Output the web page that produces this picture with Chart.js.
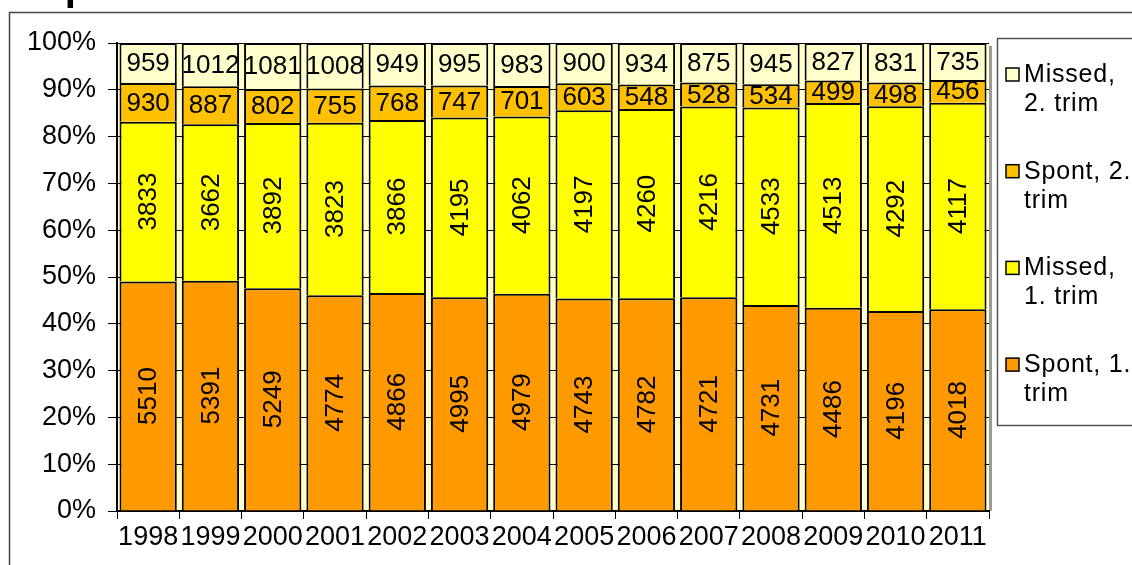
<!DOCTYPE html>
<html>
<head>
<meta charset="utf-8">
<script src="https://cdn.jsdelivr.net/npm/chart.js@4.4.0/dist/chart.umd.min.js"></script>
<style>
    html, body { margin: 0; padding: 0; background: #fff; }
    #wrap { position: relative; width: 1132px; height: 565px; }
</style>
</head>
<body>
<div id="wrap"><canvas id="chart" width="1132" height="565"></canvas></div>
<script>
// --- data -------------------------------------------------------------
const years = ['1998', '1999', '2000', '2001', '2002', '2003', '2004',
               '2005', '2006', '2007', '2008', '2009', '2010', '2011'];

const spont1  = [5510, 5391, 5249, 4774, 4866, 4995, 4979, 4743, 4782, 4721, 4731, 4486, 4196, 4018];
const missed1 = [3833, 3662, 3892, 3823, 3866, 4195, 4062, 4197, 4260, 4216, 4533, 4513, 4292, 4117];
const spont2  = [930, 887, 802, 755, 768, 747, 701, 603, 548, 528, 534, 499, 498, 456];
const missed2 = [959, 1012, 1081, 1008, 949, 995, 983, 900, 934, 875, 945, 827, 831, 735];

const seriesLabels = [['Spont, 1.', 'trim'], ['Missed,', '1. trim'], ['Spont, 2.', 'trim'], ['Missed,', '2. trim']];
const seriesColors = ['#FF9900', '#FFFF00', '#FFC000', '#FFFFCC'];
const rotatedLabels = [true, true, false, false];

const yTickStep = 10;
const titleText = 'Spontaneous and missed abortions';

const FONT = '"Liberation Sans", Arial, sans-serif';

// counts -> share of the yearly total, so the stack fills 100%
const allSeries = [spont1, missed1, spont2, missed2];
const totals = years.map((_, i) => allSeries.reduce((s, arr) => s + arr[i], 0));
const toPct = arr => arr.map((v, i) => v / totals[i] * 100);

// --- plugins ----------------------------------------------------------
const plotBackground = {
    id: 'plotBackground',
    beforeDraw(chart) {
        const { ctx, chartArea: a } = chart;
        ctx.save();
        // outer frame (left and top edges)
        ctx.strokeStyle = '#444';
        ctx.lineWidth = 1.5;
        ctx.beginPath();
        ctx.moveTo(9.5, 565);
        ctx.lineTo(9.5, 12.5);
        ctx.lineTo(1132, 12.5);
        ctx.stroke();
        // title, sitting above the visible frame
        ctx.fillStyle = '#000';
        ctx.font = 'bold 40px ' + FONT;
        ctx.textBaseline = 'alphabetic';
        ctx.fillText(titleText, 38, 0);
        // plot area fill + right shadow
        ctx.fillStyle = '#FFFFCC';
        ctx.fillRect(a.left, a.top, a.right - a.left, a.bottom - a.top);
        ctx.fillStyle = '#9a9a9a';
        ctx.fillRect(a.right, a.top + 3, 3, a.bottom - a.top - 3);
        ctx.restore();
    }
};

const valueLabels = {
    id: 'valueLabels',
    afterDatasetsDraw(chart) {
        const { ctx } = chart;
        ctx.save();
        ctx.fillStyle = '#000';
        ctx.font = '26px ' + FONT;
        ctx.textAlign = 'center';
        ctx.textBaseline = 'middle';
        chart.data.datasets.forEach((ds, di) => {
            const meta = chart.getDatasetMeta(di);
            meta.data.forEach((bar, i) => {
                const cy = (bar.y + bar.base) / 2;
                const txt = String(ds.counts[i]);
                if (rotatedLabels[di]) {
                    ctx.save();
                    ctx.translate(bar.x, cy);
                    ctx.rotate(-Math.PI / 2);
                    ctx.fillText(txt, 0, 1);
                    ctx.restore();
                } else {
                    ctx.fillText(txt, bar.x, cy + 1);
                }
            });
        });
        ctx.restore();
    }
};

const boxLegend = {
    id: 'boxLegend',
    afterDraw(chart) {
        const { ctx } = chart;
        const x0 = 997.5, y0 = 38.5;
        ctx.save();
        ctx.fillStyle = '#fff';
        ctx.fillRect(x0, y0, 200, 387);
        ctx.strokeStyle = '#555';
        ctx.lineWidth = 1.5;
        ctx.strokeRect(x0, y0, 200, 387);

        ctx.font = '25px ' + FONT;
        ctx.letterSpacing = '0.8px';
        ctx.textAlign = 'left';
        ctx.textBaseline = 'middle';
        const order = [3, 2, 1, 0];
        order.forEach((di, k) => {
            const ds = chart.data.datasets[di];
            const cy = 75 + k * 96.7;
            ctx.fillStyle = ds.backgroundColor;
            ctx.fillRect(1006, cy - 7, 13, 13);
            ctx.strokeStyle = '#000';
            ctx.lineWidth = 1.5;
            ctx.strokeRect(1006, cy - 7, 13, 13);
            ctx.fillStyle = '#000';
            ds.label.forEach((line, li) => ctx.fillText(line, 1024, cy + li * 29));
        });
        ctx.restore();
    }
};

// --- chart ------------------------------------------------------------
new Chart(document.getElementById('chart'), {
    type: 'bar',
    data: {
        labels: years,
        datasets: allSeries.map((arr, i) => ({
            label: seriesLabels[i],
            data: toPct(arr),
            counts: arr,
            backgroundColor: seriesColors[i],
            borderColor: '#000',
            borderWidth: 2,
            borderSkipped: 'start',
            categoryPercentage: 1,
            barPercentage: 0.92
        }))
    },
    options: {
        responsive: false,
        devicePixelRatio: 1,
        animation: false,
        layout: { padding: { left: 0, top: 43, right: 143, bottom: 0 } },
        plugins: {
            legend: { display: false },
            tooltip: { enabled: false },
            title: { display: false }
        },
        scales: {
            x: {
                stacked: true,
                grid: { offset: true, drawOnChartArea: false, drawTicks: true, tickLength: 8, color: '#000', lineWidth: 1 },
                border: { display: true, color: '#000', width: 2 },
                ticks: { color: '#000', font: { family: FONT, size: 27 }, padding: 2, maxRotation: 0, autoSkip: false },
                afterFit(scale) { scale.height = 54; }
            },
            y: {
                stacked: true,
                min: 0,
                max: 100,
                grid: { color: '#000', lineWidth: 1, tickLength: 9 },
                border: { display: true, color: '#000', width: 2 },
                ticks: {
                    stepSize: yTickStep,
                    color: '#000',
                    font: { family: FONT, size: 27 },
                    padding: 12,
                    callback: v => v + '%'
                },
                afterFit(scale) { scale.width = 117; }
            }
        }
    },
    plugins: [plotBackground, valueLabels, boxLegend]
});
</script>
</body>
</html>
